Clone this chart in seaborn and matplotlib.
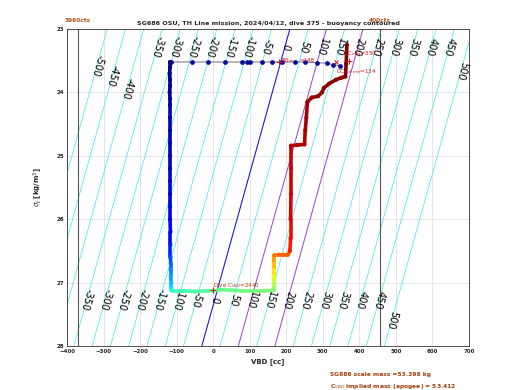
import numpy as np
import pandas as pd
import matplotlib
matplotlib.use("Agg")
import matplotlib.pyplot as plt
import seaborn as sns
from matplotlib.collections import LineCollection

# zero buoyancy VBD at the top and bottom of the axes
sigma_ref = [23.0, 28.0]
vbd_neutral = [210.0, -31.0]
contour_levels = list(range(-500, 501, 50))   # grams
purple_levels = [100, 200]

# VBD travel limits (vertical lines) and their labels
vbd_limits = [-370, 456]
limit_labels = ["3960cts", "400cts"]

# surface points before the dive (dark blue dots)
surf_vbd = [-118, -115, -59, -14, 32, 78, 92, 101, 133, 160, 188, 224, 251, 283, 311, 328, 347]
surf_sigma = [23.52, 23.52, 23.52, 23.52, 23.52, 23.52, 23.52, 23.52, 23.52, 23.52, 23.52,
              23.52, 23.52, 23.53, 23.54, 23.56, 23.58]

# dive track, coloured by elapsed fraction of the dive
dive_vbd = [-118, -118, -119, -118, -118, -119, -118, -118, -118, -118, -118, -118, -118,
            -118, -118, -118, -118, -117, -117, -117, -116, -116, -116, -115, -115, -114,
            -110, -80, -50, -20, 0, 20, 50, 80, 110, 140, 166,
            166, 166, 166, 166, 166, 167, 180, 192, 205, 210, 212, 212, 213, 213, 213,
            230, 250, 252, 255, 258, 270, 287, 298, 303, 318, 336, 350, 362, 364, 366]
dive_sigma = [23.52, 23.6, 23.7, 23.8, 23.9, 24.0, 24.1, 24.2, 24.4, 24.6, 24.8, 25.0, 25.2,
              25.4, 25.6, 25.8, 26.0, 26.2, 26.4, 26.6, 26.7, 26.8, 26.9, 27.0, 27.08, 27.12,
              27.13, 27.13, 27.14, 27.13, 27.13, 27.11, 27.12, 27.13, 27.13, 27.13, 27.12,
              27.05, 26.95, 26.85, 26.75, 26.65, 26.57, 26.56, 26.56, 26.56, 26.5, 26.3, 26.0,
              25.6, 25.2, 24.84, 24.83, 24.82, 24.6, 24.4, 24.15, 24.08, 24.06, 24.0, 23.93,
              23.86, 23.8, 23.77, 23.75, 23.55, 23.25]
dive_frac = [0.0, 0.005, 0.01, 0.015, 0.02, 0.025, 0.03, 0.035, 0.04, 0.045, 0.05, 0.055, 0.065,
             0.075, 0.085, 0.095, 0.11, 0.13, 0.16, 0.2, 0.23, 0.26, 0.29, 0.32, 0.35, 0.37,
             0.42, 0.44, 0.45, 0.46, 0.47, 0.48, 0.485, 0.49, 0.495, 0.5, 0.51,
             0.56, 0.62, 0.67, 0.71, 0.74, 0.79, 0.8, 0.81, 0.82, 0.88, 0.9, 0.92, 0.93,
             0.94, 0.95, 0.955, 0.96, 0.963, 0.966, 0.97, 0.975, 0.98, 0.983, 0.986, 0.989,
             0.99, 0.993, 0.995, 0.998, 1.0]

sns.set_theme(style="white")
plt.rcParams['font.family'] = ['DejaVu Sans']

fig = plt.figure(figsize=(5.2, 3.9), dpi=100)
ax = fig.add_axes([0.1288, 0.1128, 0.773, 0.8128])
ax.set_xlim(-400, 700)
ax.set_ylim(28, 23)

# buoyancy field: grams relative to the neutral VBD at each density
vv, ss = np.meshgrid(np.linspace(-400, 700, 221), np.linspace(23, 28, 101))
buoy = vv - np.interp(ss, sigma_ref, vbd_neutral)

cyan_levels = [l for l in contour_levels if l != 0 and l not in purple_levels]
ax.contour(vv, ss, buoy, levels=cyan_levels, colors='#4ce8ee', linewidths=0.55,
           linestyles='solid', zorder=1)
ax.contour(vv, ss, buoy, levels=purple_levels, colors='#9b3fd6', linewidths=0.7,
           linestyles='solid', zorder=1)
ax.contour(vv, ss, buoy, levels=[0], colors='#1a1adb', linewidths=0.8,
           linestyles='solid', zorder=1)

for x in vbd_limits:
    ax.axvline(x, color='#555555', lw=0.8, zorder=1)
for x, lab in zip(vbd_limits, limit_labels):
    ax.text(x, 22.9, lab, color='#b5531a', fontsize=4.2, fontweight='bold', ha='center', va='bottom')

# contour labels, reading down the line like the original
fig.canvas.draw()
p0 = ax.transData.transform((vbd_neutral[0], 23.0))
p1 = ax.transData.transform((vbd_neutral[1], 28.0))
ang = np.degrees(np.arctan2(p0[1] - p1[1], p0[0] - p1[0])) - 180
top_row = {-500: 23.57, -450: 23.73, -400: 23.93, 500: 23.65}
bot_row = {500: 27.59}
for lvl in contour_levels:
    for row, default, skip in [(top_row, 23.28, []), (bot_row, 27.27, [-500, -450, -400])]:
        if lvl in skip:
            continue
        s = row.get(lvl, default)
        x = np.interp(s, sigma_ref, vbd_neutral) + lvl
        ax.text(x, s, str(lvl), fontsize=7, rotation=ang, ha='center', va='center',
                rotation_mode='anchor', color='black', zorder=2)

# surface pump-down
ax.plot(surf_vbd, surf_sigma, color='#555555', lw=0.6, zorder=3)
ax.plot(surf_vbd, surf_sigma, 'o', color='#0a0a9a', ms=2.4, zorder=4)

# dive track
dive = pd.DataFrame({'vbd': dive_vbd, 'sigma': dive_sigma, 'frac': dive_frac})
pts = dive[['vbd', 'sigma']].to_numpy()
segs = np.stack([pts[:-1], pts[1:]], axis=1)
cmap = plt.get_cmap('jet')
lc = LineCollection(segs, colors=cmap(dive['frac'].to_numpy()[:-1]), linewidths=2.6, zorder=5)
ax.add_collection(lc)
sns.scatterplot(data=dive, x='vbd', y='sigma', hue='frac', palette=cmap, hue_norm=(0, 1),
                s=9, linewidth=0, legend=False, ax=ax, zorder=6)

# markers and annotations
ax.plot([336], [23.52], 'x', color='#e01010', ms=3, mew=0.7, zorder=7)
ax.plot([180, 372, 0], [23.52, 23.5, 27.12], '+', color='#e01010', ms=4, mew=0.7, zorder=7)
ax.text(185, 23.5, '80$_{on}$', color='#e01010', fontsize=4, va='center', zorder=8)
ax.text(236, 23.5, '=148', color='#e01010', fontsize=4, va='center', zorder=8)
ax.text(357, 23.38, 'CC$_{max}$=350', color='#e01010', fontsize=4, va='center', zorder=8)
ax.text(337, 23.67, 'CC$_{surf\\ min}$=134', color='#e01010', fontsize=4, va='center', zorder=8)
ax.text(0, 27.05, 'Dive C$_{VBD}$=2440', color='#a4400f', fontsize=4, va='center', zorder=8)

ax.set_xticks(range(-400, 701, 100))
ax.set_yticks(range(23, 29))
ax.grid(True, color='#e2e2e2', lw=0.6)
ax.set_axisbelow(True)
ax.tick_params(labelsize=4, direction='in', length=2, width=0.5, pad=2)
for lab in ax.get_xticklabels() + ax.get_yticklabels():
    lab.set_fontweight('bold')
for sp in ax.spines.values():
    sp.set_color('#333333')
    sp.set_linewidth(0.6)

ax.set_xlabel('VBD [cc]', fontsize=5, fontweight='bold', labelpad=3)
ax.set_ylabel('$\\sigma_t$ [kg/m$^3$]', fontsize=5, fontweight='bold', labelpad=8)
ax.set_title('SG686 OSU, TH Line mission, 2024/04/12, dive 375 - buoyancy contoured',
             fontsize=4.6, fontweight='bold', pad=3)

fig.text(0.635, 0.0385, 'SG686 scale mass =53.398 kg', color='#a4400f', fontsize=4.3,
         fontweight='bold', va='center')
fig.text(0.635, 0.009, 'C$_{VBD}$ implied mass (apogee) = 53.412', color='#a4400f', fontsize=4.3,
         fontweight='bold', va='center')

fig.savefig('out.png', dpi=100)
